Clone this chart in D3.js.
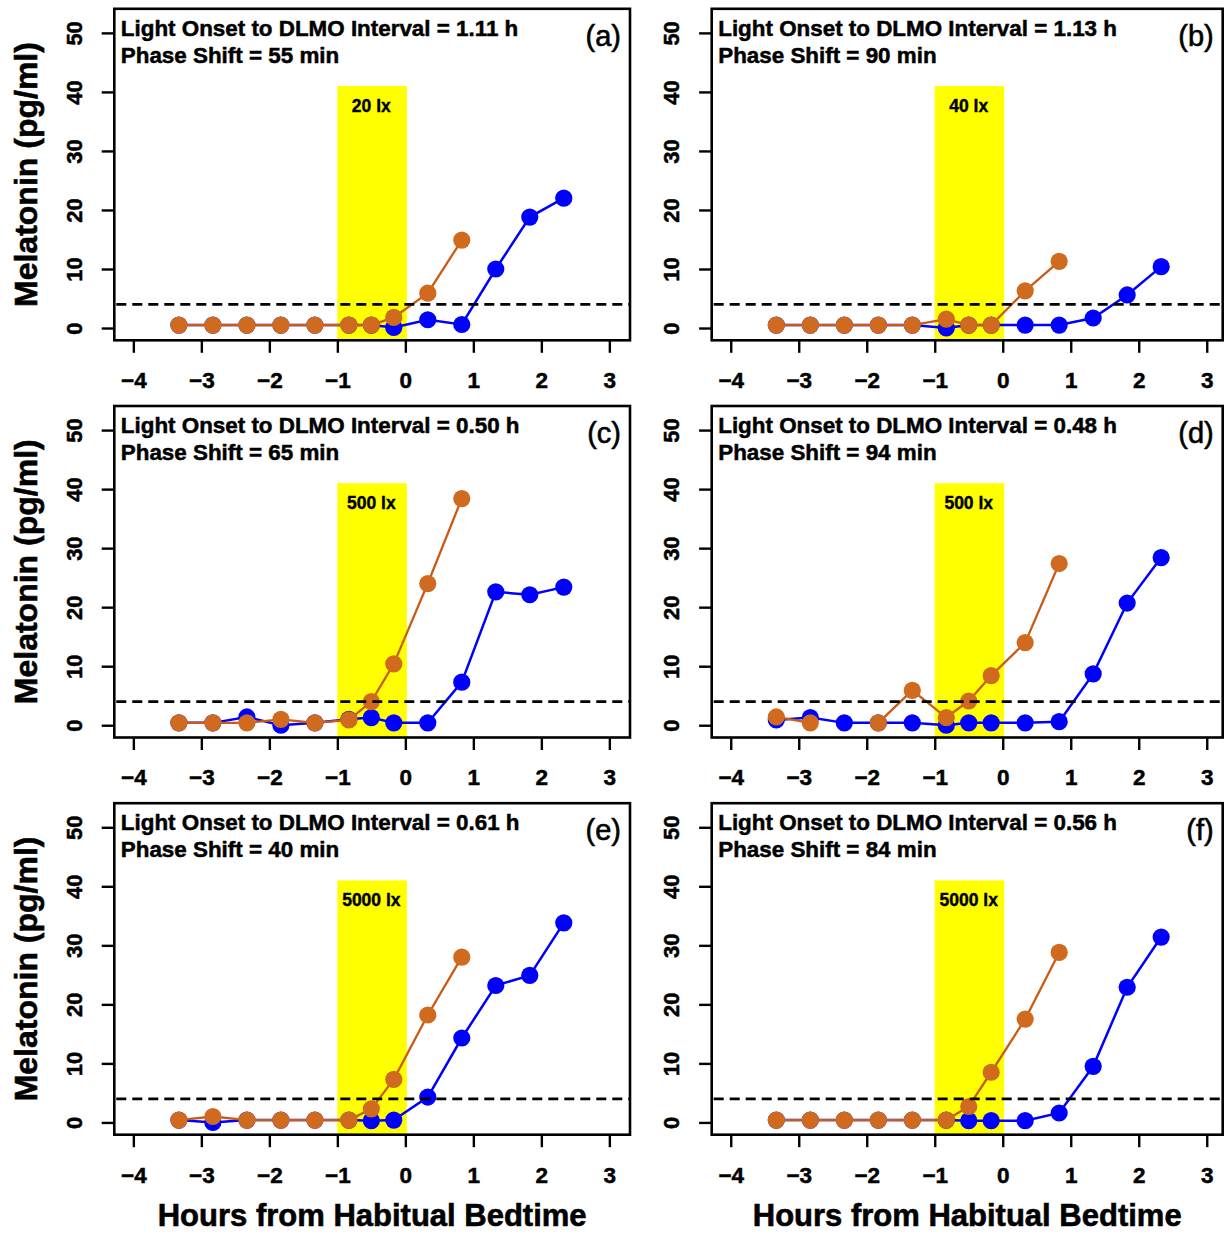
<!DOCTYPE html>
<html>
<head>
<meta charset="utf-8">
<script src="https://cdn.jsdelivr.net/npm/d3@7"></script>
<style>
  html, body { margin: 0; padding: 0; background: #fff; }
  svg { display: block; }
  text { font-family: "Liberation Sans", Arial, Helvetica, sans-serif; }
</style>
</head>
<body>
<svg id="chart" width="1226" height="1235"></svg>
<script>
// ---------------- data ----------------
const timesBaseline = [-3.33, -2.83, -2.33, -1.83, -1.33, -0.83, -0.5, -0.17, 0.33, 0.83];
const timesPost     = [-3.33, -2.83, -2.33, -1.83, -1.33, -0.83, -0.5, -0.17, 0.33, 0.83, 1.33, 1.83, 2.33];

const panelLetters = ["(a)", "(b)", "(c)", "(d)", "(e)", "(f)"];
const intervals    = ["1.11", "1.13", "0.50", "0.48", "0.61", "0.56"];
const phaseShifts  = ["55", "90", "65", "94", "40", "84"];
const luxLabels    = ["20 lx", "40 lx", "500 lx", "500 lx", "5000 lx", "5000 lx"];

// orange (baseline evening) series, one array per panel
const baselineA = [0.5, 0.5, 0.5, 0.5, 0.5, 0.5, 0.5, 1.8, 5.9, 14.9];
const baselineB = [0.5, 0.5, 0.5, 0.5, 0.5, 1.5, 0.5, 0.5, 6.3, 11.3];
const baselineC = [0.4, 0.4, 0.4, 1.0, 0.4, 0.9, 4.0, 10.4, 24.0, 38.4];
const baselineD = [1.4, 0.4, null, 0.4, 5.9, 1.3, 4.1, 8.4, 14.0, 27.4];
const baselineE = [0.4, 1.0, 0.4, 0.4, 0.4, 0.4, 2.3, 7.3, 18.2, 28.0];
const baselineF = [0.4, 0.4, 0.4, 0.4, 0.4, 0.4, 2.7, 8.5, 17.5, 28.8];

// blue (post-light) series
const postA = [0.5, 0.5, 0.5, 0.5, 0.5, 0.5, 0.5, 0.1, 1.4, 0.6, 10.0, 18.8, 22.0];
const postB = [0.5, 0.5, 0.5, 0.5, 0.5, 0.0, 0.5, 0.5, 0.5, 0.5, 1.7, 5.6, 10.4];
const postC = [0.4, 0.4, 1.4, 0.0, 0.4, 1.0, 1.3, 0.4, 0.4, 7.3, 22.6, 22.1, 23.4];
const postD = [0.9, 1.3, 0.4, 0.4, 0.4, 0.0, 0.4, 0.4, 0.4, 0.6, 8.7, 20.7, 28.4];
const postE = [0.4, 0.0, 0.4, 0.4, 0.4, 0.4, 0.3, 0.4, 4.3, 14.3, 23.2, 24.9, 33.8];
const postF = [0.4, 0.4, 0.4, 0.4, 0.4, 0.4, 0.3, 0.3, 0.3, 1.6, 9.5, 22.9, 31.4];

const xTicks = [-4, -3, -2, -1, 0, 1, 2, 3];
const yTicks = [0, 10, 20, 30, 40, 50];
const threshold = 4;          // DLMO threshold (pg/ml)
const lightWindow = [-1, 0];  // light exposure window (h)
const lightTop = 41;          // top of the light box (pg/ml)
const yDomain = [-2.08, 54.08];
const xMin = -4.28;

const baselineSeries = [baselineA, baselineB, baselineC, baselineD, baselineE, baselineF];
const postSeries = [postA, postB, postC, postD, postE, postF];

// ---------------- layout ----------------
const colLeft = [114.3, 711.7];
const colWidth = [515.7, 511];
const rowTop = [8.8, 406.0, 803.2];
const boxH = 331.5;
const pxPerHour = 68;

const ORANGE_LINE = "#C95C12";
const ORANGE_FILL = "#D06A1F";
const BLUE = "#0000FF";

const svg = d3.select("#chart");

function boldish(sel, w) {
  return sel.attr("stroke", "#000").attr("stroke-width", w).attr("paint-order", "stroke");
}

for (let p = 0; p < 6; p++) {
  const col = p % 2, row = Math.floor(p / 2);
  const L = colLeft[col], T = rowTop[row], W = colWidth[col], H = boxH;
  const x = d3.scaleLinear().domain([xMin, xMin + W / pxPerHour]).range([0, W]);
  const y = d3.scaleLinear().domain(yDomain).range([H, 0]);

  const g = svg.append("g").attr("transform", `translate(${L},${T})`);
  const clipId = "clip" + p;
  g.append("clipPath").attr("id", clipId).append("rect").attr("width", W).attr("height", H);
  const plot = g.append("g").attr("clip-path", `url(#${clipId})`);

  // light box
  plot.append("rect")
    .attr("x", x(lightWindow[0]))
    .attr("width", x(lightWindow[1]) - x(lightWindow[0]) + 1.5)
    .attr("y", y(lightTop))
    .attr("height", H - y(lightTop) + 2)
    .attr("fill", "#FFFF00");

  boldish(plot.append("text")
    .attr("x", x((lightWindow[0] + lightWindow[1]) / 2))
    .attr("y", y(lightTop) + 25.5)
    .attr("text-anchor", "middle")
    .attr("font-weight", "bold")
    .attr("font-size", 17.5)
    .text(luxLabels[p]), 0.4);

  // series
  const post = timesPost.map((t, i) => ({ t, v: postSeries[p][i] }));
  const base = timesBaseline.map((t, i) => ({ t, v: baselineSeries[p][i] }));
  const line = d3.line().defined(d => d.v != null).x(d => x(d.t)).y(d => y(d.v));

  plot.append("path").datum(post).attr("d", line)
    .attr("fill", "none").attr("stroke", BLUE).attr("stroke-width", 2.5);
  plot.selectAll(".pb").data(post.filter(d => d.v != null)).enter().append("circle")
    .attr("cx", d => x(d.t)).attr("cy", d => y(d.v)).attr("r", 8.6).attr("fill", BLUE);

  plot.append("path").datum(base).attr("d", line)
    .attr("fill", "none").attr("stroke", ORANGE_LINE).attr("stroke-width", 2.3);
  plot.selectAll(".po").data(base.filter(d => d.v != null)).enter().append("circle")
    .attr("cx", d => x(d.t)).attr("cy", d => y(d.v)).attr("r", 8.6).attr("fill", ORANGE_FILL);

  // threshold
  plot.append("line")
    .attr("x1", 0).attr("x2", W)
    .attr("y1", y(threshold)).attr("y2", y(threshold))
    .attr("stroke", "#000").attr("stroke-width", 2.8)
    .attr("stroke-dasharray", "10,6").attr("stroke-dashoffset", -2);

  // box
  g.append("rect").attr("width", W).attr("height", H)
    .attr("fill", "none").attr("stroke", "#000").attr("stroke-width", 2.6);

  // annotation
  boldish(g.append("text").attr("x", 6.5).attr("y", 27)
    .attr("font-weight", "bold").attr("font-size", 22.4)
    .text(`Light Onset to DLMO Interval = ${intervals[p]} h`), 0.5);
  boldish(g.append("text").attr("x", 6.5).attr("y", 54.3)
    .attr("font-weight", "bold").attr("font-size", 22.4)
    .text(`Phase Shift = ${phaseShifts[p]} min`), 0.5);
  boldish(g.append("text").attr("x", W - 9).attr("y", 37)
    .attr("text-anchor", "end").attr("font-size", 29)
    .text(panelLetters[p]), 0.6);

  // x axis
  const xa = g.append("g").attr("transform", `translate(0,${H})`)
    .call(d3.axisBottom(x).tickValues(xTicks).tickSize(12.5).tickPadding(19.5));
  xa.select(".domain").remove();
  xa.selectAll("line").attr("stroke", "#000").attr("stroke-width", 2.4);
  boldish(xa.selectAll("text").attr("font-family", "Liberation Sans, Arial, sans-serif")
    .attr("font-weight", "bold").attr("font-size", 22.5).attr("fill", "#000"), 0.5);

  // y axis
  const ya = g.append("g")
    .call(d3.axisLeft(y).tickValues(yTicks).tickSize(12.6));
  ya.select(".domain").remove();
  ya.selectAll("line").attr("stroke", "#000").attr("stroke-width", 2.4);
  boldish(ya.selectAll("text")
    .attr("x", null).attr("dy", null)
    .attr("transform", "translate(-32.5,0) rotate(-90)")
    .attr("text-anchor", "middle")
    .attr("font-family", "Liberation Sans, Arial, sans-serif")
    .attr("font-weight", "bold").attr("font-size", 22).attr("fill", "#000"), 0.5);

  if (col === 0) {
    boldish(svg.append("text")
      .attr("transform", `translate(37,${T + H / 2}) rotate(-90)`)
      .attr("text-anchor", "middle")
      .attr("font-weight", "bold").attr("font-size", 32)
      .text("Melatonin (pg/ml)"), 0.6);
  }
  if (row === 2) {
    boldish(svg.append("text")
      .attr("x", L + W / 2).attr("y", T + H + 91.5)
      .attr("text-anchor", "middle")
      .attr("font-weight", "bold").attr("font-size", 31)
      .text("Hours from Habitual Bedtime"), 0.6);
  }
}
</script>
</body>
</html>
